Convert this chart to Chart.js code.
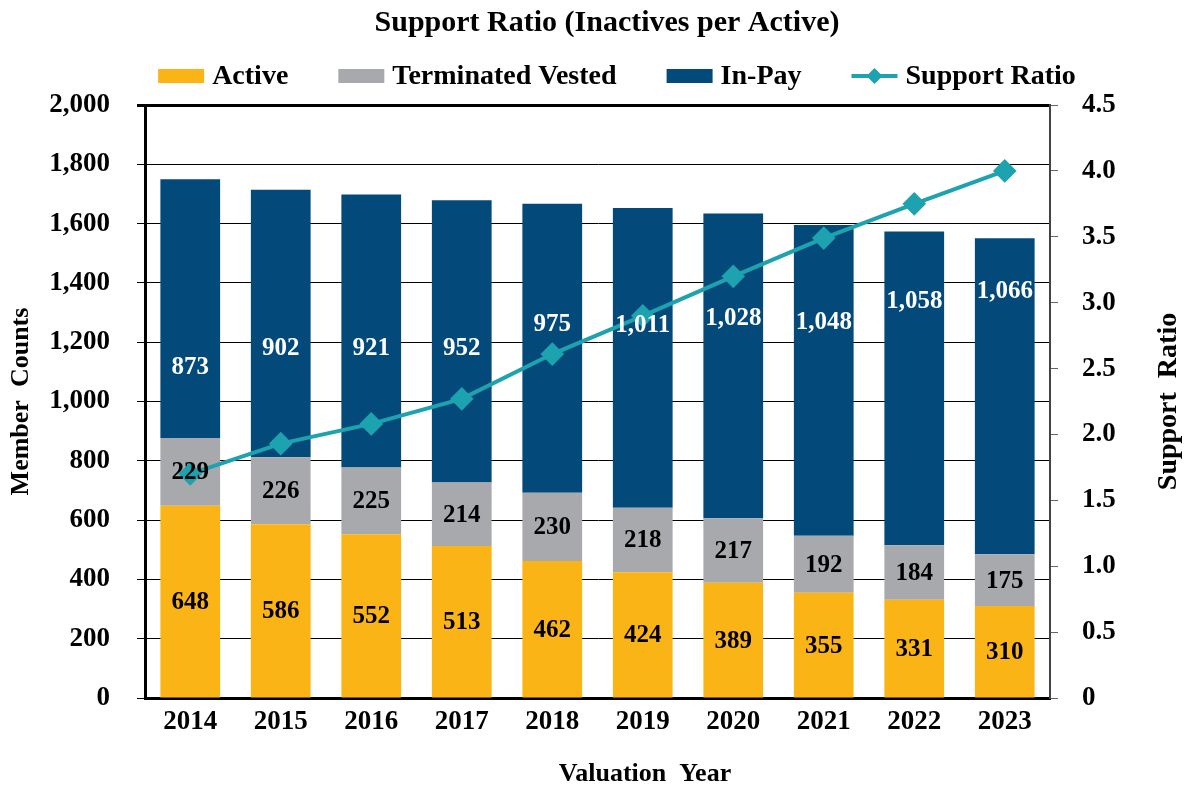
<!DOCTYPE html>
<html>
<head>
<meta charset="utf-8">
<script src="https://cdn.jsdelivr.net/npm/chart.js@4.4.1/dist/chart.umd.min.js"></script>
<style>
  html, body { margin: 0; padding: 0; background: #fff; }
  #wrap { width: 1189px; height: 789px; }
</style>
</head>
<body>
<div id="wrap"><canvas id="chart"></canvas></div>
<script>
const years = ["2014", "2015", "2016", "2017", "2018", "2019", "2020", "2021", "2022", "2023"];
const active = [648, 586, 552, 513, 462, 424, 389, 355, 331, 310];
const terminatedVested = [229, 226, 225, 214, 230, 218, 217, 192, 184, 175];
const inPay = [873, 902, 921, 952, 975, 1011, 1028, 1048, 1058, 1066];
const supportRatio = [1.70, 1.93, 2.08, 2.27, 2.61, 2.90, 3.20, 3.49, 3.75, 4.00];
const countTicks = [0, 200, 400, 600, 800, 1000, 1200, 1400, 1600, 1800, 2000];
const ratioTicks = [0, 0.5, 1.0, 1.5, 2.0, 2.5, 3.0, 3.5, 4.0, 4.5];

const serif = "'Liberation Serif', 'Times New Roman', serif";
Chart.defaults.font.family = serif;
Chart.defaults.font.weight = "bold";
Chart.defaults.color = "#000";

const GOLD = "#FBB416";
const GRAY = "#A7A9AC";
const NAVY = "#034A7B";
const TEAL = "#1DA3B0";

// value labels inside the bar segments, title, legend and axis titles
const extras = {
  id: "extras",
  afterDatasetsDraw(chart, args, opts) {
    const ctx = chart.ctx;
    const y = chart.scales.y;
    ctx.save();
    ctx.font = "bold 25px " + serif;
    ctx.textAlign = "center";
    ctx.textBaseline = "middle";
    chart.data.datasets.forEach((ds, di) => {
      if (ds.type === "line") return;
      const meta = chart.getDatasetMeta(di);
      meta.data.forEach((bar, i) => {
        let py = (bar.y + bar.base) / 2;
        if (ds.label === "In-Pay" && opts.inPayAt) {
          py = y.getPixelForValue(opts.inPayAt[i]);
        }
        ctx.fillStyle = ds.label === "In-Pay" ? "#fff" : "#000";
        ctx.fillText(ds.data[i].toLocaleString("en-US"), bar.x, py + 1);
      });
    });
    ctx.restore();
  },
  afterDraw(chart, args, opts) {
    const ctx = chart.ctx;
    const area = chart.chartArea;

    // title
    ctx.save();
    ctx.font = "bold 30px " + serif;
    ctx.fillStyle = "#000";
    ctx.textAlign = "center";
    ctx.textBaseline = "middle";
    ctx.fillText("Support Ratio (Inactives per Active)", opts.titleX, opts.titleY);
    ctx.restore();

    // legend
    ctx.save();
    ctx.font = "bold 28px " + serif;
    ctx.textBaseline = "middle";
    const boxW = 46, gap = 8, space = 50;
    const items = chart.data.datasets.map((ds) => ({
      text: ds.label,
      color: ds.type === "line" ? ds.borderColor : ds.backgroundColor,
      line: ds.type === "line",
      w: boxW + gap + ctx.measureText(ds.label).width,
    }));
    const total = items.reduce((s, it) => s + it.w, 0) + space * (items.length - 1);
    let x = opts.legendCenter - total / 2;
    const ly = opts.legendY;
    items.forEach((it) => {
      ctx.fillStyle = it.color;
      if (it.line) {
        ctx.strokeStyle = it.color;
        ctx.lineWidth = 4;
        ctx.beginPath();
        ctx.moveTo(x, ly);
        ctx.lineTo(x + boxW, ly);
        ctx.stroke();
        const cx = x + boxW / 2;
        ctx.beginPath();
        ctx.moveTo(cx, ly - 8);
        ctx.lineTo(cx + 8, ly);
        ctx.lineTo(cx, ly + 8);
        ctx.lineTo(cx - 8, ly);
        ctx.closePath();
        ctx.fill();
      } else {
        ctx.fillRect(x, ly - 7, boxW, 14);
      }
      ctx.fillStyle = "#000";
      ctx.fillText(it.text, x + boxW + gap, ly + 1);
      x += it.w + space;
    });
    ctx.restore();

    // x axis title
    ctx.save();
    ctx.font = "bold 26px " + serif;
    ctx.fillStyle = "#000";
    ctx.textAlign = "center";
    ctx.textBaseline = "middle";
    ctx.fillText("Valuation  Year", opts.xTitleX, opts.xTitleY);
    ctx.restore();

    // right axis title reads bottom to top like the left one
    ctx.save();
    ctx.translate(opts.rightTitleX, (area.top + area.bottom) / 2);
    ctx.rotate(-Math.PI / 2);
    ctx.font = "bold 28px " + serif;
    ctx.fillStyle = "#000";
    ctx.textAlign = "center";
    ctx.textBaseline = "middle";
    ctx.fillText("Support  Ratio", 0, 0);
    ctx.restore();
  },
};

new Chart(document.getElementById("chart"), {
  type: "bar",
  data: {
    labels: years,
    datasets: [
      {
        label: "Active",
        data: active,
        backgroundColor: GOLD,
        stack: "m",
        yAxisID: "y",
        order: 1,
      },
      {
        label: "Terminated Vested",
        data: terminatedVested,
        backgroundColor: GRAY,
        stack: "m",
        yAxisID: "y",
        order: 1,
      },
      {
        label: "In-Pay",
        data: inPay,
        backgroundColor: NAVY,
        stack: "m",
        yAxisID: "y",
        order: 1,
      },
      {
        type: "line",
        label: "Support Ratio",
        data: supportRatio,
        borderColor: TEAL,
        backgroundColor: TEAL,
        borderWidth: 4,
        pointStyle: "rectRot",
        pointRadius: 9,
        pointHoverRadius: 9,
        yAxisID: "y2",
        order: 0,
      },
    ],
  },
  options: {
    responsive: true,
    maintainAspectRatio: false,
    animation: false,
    layout: { padding: { left: 0, right: 0, top: 105, bottom: 0 } },
    datasets: {
      bar: { barPercentage: 0.66, categoryPercentage: 1 },
    },
    plugins: {
      tooltip: { enabled: false },
      legend: { display: false },
      title: { display: false },
      extras: {
        inPayAt: [1118, 1182, 1182, 1182, 1262, 1258, 1282, 1268, 1342, 1373],
        titleX: 607,
        titleY: 23,
        legendCenter: 617,
        legendY: 76,
        xTitleX: 645,
        xTitleY: 774,
        rightTitleX: 1169,
      },
    },
    scales: {
      x: {
        stacked: true,
        grid: { display: false, drawTicks: false },
        border: { display: true, color: "#000", width: 3 },
        ticks: { font: { size: 27, weight: "bold" }, color: "#000", padding: 8 },
        afterFit(scale) {
          scale.height = 91;
        },
      },
      y: {
        stacked: true,
        position: "left",
        min: 0,
        max: 2000,
        afterBuildTicks(scale) {
          scale.ticks = countTicks.map((v) => ({ value: v }));
        },
        grid: {
          color: "#000",
          lineWidth: (c) => (c.tick && c.tick.value === 2000 ? 3 : 1),
          tickLength: 8,
        },
        border: { display: true, color: "#000", width: 3 },
        ticks: {
          font: { size: 27, weight: "bold" },
          color: "#000",
          padding: 27,
          callback: (v) => Number(v).toLocaleString("en-US"),
        },
        title: {
          display: true,
          text: "Member  Counts",
          font: { size: 26, weight: "bold" },
          color: "#000",
          padding: { top: 6, bottom: 0 },
        },
        afterFit(scale) {
          scale.width = 145;
        },
      },
      y2: {
        position: "right",
        min: 0,
        max: 4.5,
        afterBuildTicks(scale) {
          scale.ticks = ratioTicks.map((v) => ({ value: v }));
        },
        grid: {
          drawOnChartArea: false,
          color: "#666",
          lineWidth: 1,
          tickLength: 8,
        },
        border: { display: true, color: "#444", width: 2 },
        ticks: {
          font: { size: 27, weight: "bold" },
          color: "#000",
          padding: 24,
          callback: (v) => (v === 0 ? "0" : Number(v).toFixed(1)),
        },
        afterFit(scale) {
          scale.width = 139;
        },
      },
    },
  },
  plugins: [extras],
});
</script>
</body>
</html>
